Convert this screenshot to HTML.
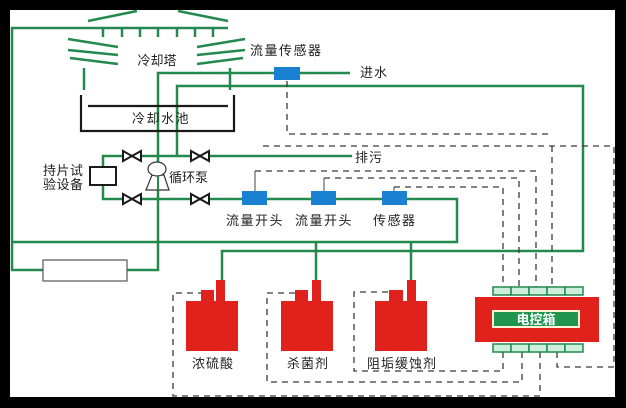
<!DOCTYPE html>
<html>
<head>
<meta charset="utf-8">
<style>
  html,body{margin:0;padding:0;background:#000;}
  svg{display:block;}
  text{font-family:"Liberation Sans","Noto Sans CJK SC",sans-serif;font-size:13px;fill:#222;}
</style>
</head>
<body>
<svg width="626" height="408" viewBox="0 0 626 408" xmlns="http://www.w3.org/2000/svg">
  <rect x="0" y="0" width="626" height="408" fill="#000"/>
  <rect x="10" y="10" width="605" height="387" fill="#fff"/>

  <!-- cooling tower -->
  <g stroke="#23894f" stroke-width="2.5" fill="none">
    <line x1="88" y1="21" x2="137" y2="11"/>
    <line x1="178" y1="11" x2="228" y2="21"/>
    <polyline points="228,28 12,28 12,270 43,270"/>
    <polyline points="127,270 158,270 158,73 350,73"/>
    <line x1="103" y1="28" x2="103" y2="37"/>
    <line x1="122" y1="28" x2="122" y2="37"/>
    <line x1="140" y1="28" x2="140" y2="37"/>
    <line x1="158" y1="28" x2="158" y2="37"/>
    <line x1="177" y1="28" x2="177" y2="37"/>
    <line x1="195" y1="28" x2="195" y2="37"/>
    <line x1="213" y1="28" x2="213" y2="37"/>
    <line x1="68" y1="39" x2="118" y2="47"/>
    <line x1="68" y1="50" x2="118" y2="55"/>
    <line x1="70" y1="58" x2="118" y2="64"/>
    <line x1="197" y1="47" x2="245" y2="39"/>
    <line x1="197" y1="55" x2="245" y2="50"/>
    <line x1="197" y1="64" x2="243" y2="58"/>
    <line x1="84" y1="68" x2="84" y2="90"/>
    <line x1="230" y1="68" x2="230" y2="90"/>
    <polyline points="177,156 177,86 583,86 583,251 222,251 222,281"/>
    <polyline points="352,156 103,156 103,199 457,199 457,242 12,242"/>
    <line x1="316" y1="242" x2="316" y2="281"/>
    <line x1="411" y1="242" x2="411" y2="281"/>
  </g>

  <!-- pool -->
  <g stroke="#1a1a1a" stroke-width="2.2" fill="none">
    <polyline points="81,95 81,131 234,131 234,95"/>
    <line x1="88" y1="106" x2="228" y2="106"/>
  </g>

  <rect x="274" y="67" width="26" height="13" fill="#1a80d2"/>

  <rect x="90" y="167" width="26" height="18" fill="#fff" stroke="#1a1a1a" stroke-width="2"/>

  <g fill="#fff" stroke="#1a1a1a" stroke-width="2">
    <polygon points="123,151 123,161 141,151 141,161"/>
    <polygon points="191,151 191,161 209,151 209,161"/>
    <polygon points="123,194 123,204 141,194 141,204"/>
    <polygon points="191,194 191,204 209,194 209,204"/>
  </g>

  <g fill="#fff" stroke="#333" stroke-width="1.2">
    <polygon points="152,175 164,175 169,190 146,190"/>
    <ellipse cx="157" cy="169" rx="9" ry="7"/>
  </g>
  <line x1="158" y1="176" x2="158" y2="190" stroke="#23894f" stroke-width="2"/>

  <rect x="43" y="260" width="84" height="21" fill="#fff" stroke="#555" stroke-width="1.2"/>

  <rect x="242" y="191" width="25" height="14" fill="#1a80d2"/>
  <rect x="311" y="191" width="25" height="14" fill="#1a80d2"/>
  <rect x="382" y="191" width="25" height="14" fill="#1a80d2"/>

  <g stroke="#3a3a3a" stroke-width="1.3" fill="none" stroke-dasharray="6 5">
    <polyline points="287,81 287,134 552,134"/>
    <polyline points="263,146 614,146 614,367 557,367 557,352"/>
    <line x1="552" y1="146" x2="552" y2="287"/>
    <polyline points="255,171 536,171 536,287"/>
    <polyline points="324,178 519,178 519,287"/>
    <polyline points="394,187 503,187 503,287"/>
    <polyline points="503,352 503,371 354,371 354,292 389,292"/>
    <polyline points="522,352 522,382 267,382 267,293 295,293"/>
    <polyline points="540,352 540,396 173,396 173,293 201,293"/>
  </g>
  <g stroke="#444" stroke-width="1">
    <line x1="255" y1="171" x2="255" y2="191"/>
    <line x1="324" y1="178" x2="324" y2="191"/>
    <line x1="394" y1="187" x2="394" y2="191"/>
  </g>

  <g fill="#e0211c">
    <rect x="186" y="301" width="52" height="50"/>
    <rect x="201" y="290" width="13" height="12"/>
    <rect x="216" y="280" width="9" height="22"/>
    <rect x="281" y="301" width="52" height="50"/>
    <rect x="295" y="290" width="13" height="12"/>
    <rect x="312" y="280" width="9" height="22"/>
    <rect x="375" y="301" width="52" height="50"/>
    <rect x="389" y="290" width="14" height="12"/>
    <rect x="407" y="280" width="9" height="22"/>
  </g>

  <g fill="#cdeedb" stroke="#23894f" stroke-width="1.5">
    <rect x="493" y="287" width="18" height="8"/>
    <rect x="511" y="287" width="18" height="8"/>
    <rect x="529" y="287" width="18" height="8"/>
    <rect x="547" y="287" width="18" height="8"/>
    <rect x="565" y="287" width="18" height="8"/>
    <rect x="493" y="344" width="18" height="8"/>
    <rect x="511" y="344" width="18" height="8"/>
    <rect x="529" y="344" width="18" height="8"/>
    <rect x="547" y="344" width="18" height="8"/>
    <rect x="565" y="344" width="18" height="8"/>
  </g>
  <rect x="475" y="297" width="124" height="45" fill="#e0211c"/>
  <rect x="493" y="311" width="86" height="16" fill="#1f9550" stroke="#fff3d8" stroke-width="2"/>
  <text x="536" y="324" text-anchor="middle" style="fill:#fff;font-weight:bold;font-size:13px;">电控箱</text>

  <text x="157" y="65" text-anchor="middle">冷却塔</text>
  <text x="250" y="55" style="letter-spacing:1.5px">流量传感器</text>
  <text x="360" y="77" style="letter-spacing:1px">进水</text>
  <text x="161" y="123" text-anchor="middle" style="letter-spacing:1.5px">冷却水池</text>
  <text x="355" y="162" style="letter-spacing:1px">排污</text>
  <text x="43" y="175" style="letter-spacing:0.5px">持片试</text>
  <text x="43" y="189" style="letter-spacing:0.5px">验设备</text>
  <text x="169" y="182">循环泵</text>
  <text x="226" y="225" style="letter-spacing:1.5px">流量开头</text>
  <text x="295" y="225" style="letter-spacing:1.5px">流量开头</text>
  <text x="373" y="225" style="letter-spacing:1.5px">传感器</text>
  <text x="192" y="368" style="letter-spacing:1px">浓硫酸</text>
  <text x="287" y="368" style="letter-spacing:1px">杀菌剂</text>
  <text x="367" y="368" style="letter-spacing:1px">阻垢缓蚀剂</text>
</svg>
</body>
</html>
